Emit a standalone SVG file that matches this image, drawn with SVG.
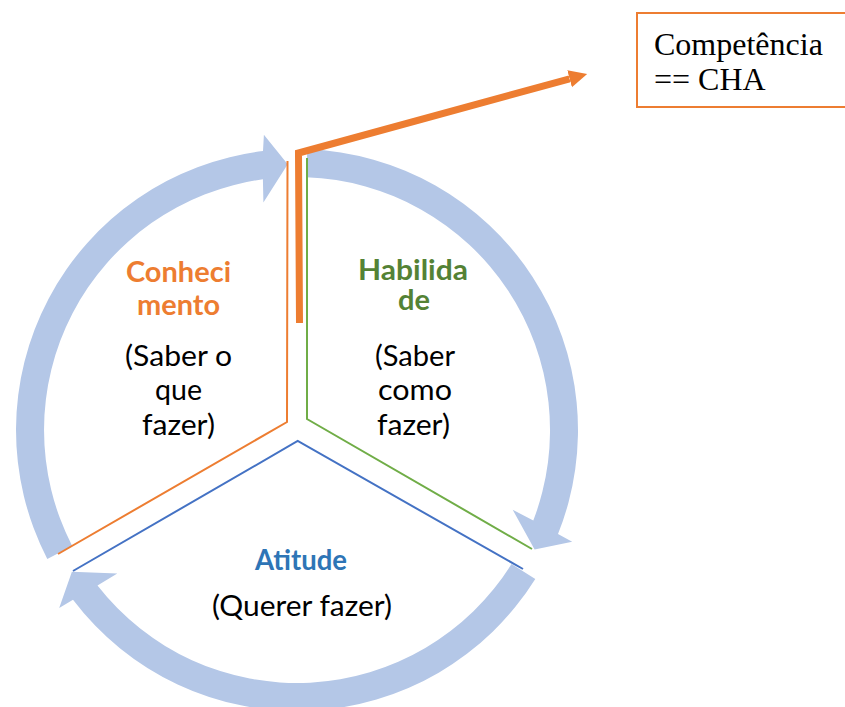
<svg xmlns="http://www.w3.org/2000/svg" width="845" height="707" viewBox="0 0 845 707">
<defs>
<style>
.arc{fill:#B4C7E7;stroke:none}
.thin{fill:none;stroke-width:2;stroke-linejoin:miter}
.lbl{font-family:"Lato","Liberation Sans",Arial,sans-serif;font-size:29px;text-anchor:middle}
.bold{font-weight:bold}
.body{fill:#000000}
.box{font-family:"Liberation Serif","Times New Roman",serif;font-size:32px;fill:#000000}
</style>
<marker id="ah" markerWidth="3" markerHeight="3" refX="0" refY="1.25" orient="auto" markerUnits="strokeWidth">
<path d="M0,0 L2.6,1.25 L0,2.5 Z" fill="#ED7D31"/>
</marker>
</defs>
<rect width="845" height="707" fill="#ffffff"/>
<g id="cycle-arrows">
<path class="arc" d="M 47.3 558.9 A 281 281 0 0 1 263.0 151.1 L 263.9 134.8 L 287.7 164.2 L 263.4 202.5 L 262.9 179.3 A 253 253 0 0 0 72.2 546.0 Z"/>
<path class="arc" d="M 307.3 149.2 A 281 281 0 0 1 558.0 534.1 L 572.2 541.7 L 534.6 549.5 L 512.7 509.8 L 533.3 520.5 A 253 253 0 0 0 306.3 177.2 Z"/>
<path class="arc" d="M 535.3 578.9 A 281 281 0 0 1 73.0 599.7 L 59.2 607.9 L 71.9 571.7 L 117.3 573.5 L 97.5 585.6 A 253 253 0 0 0 511.5 564.1 Z"/>
</g>
<g id="connectors">
<polyline class="thin" stroke="#ED7D31" points="287.5,161 287,422 58,554"/>
<polyline class="thin" stroke="#70AD47" points="307,158 307,419 532,549"/>
<polyline class="thin" stroke="#4472C4" points="73,571 297.7,441 523,569"/>
<polyline fill="none" stroke="#ED7D31" stroke-width="7" stroke-linejoin="miter" points="299.5,323 298.5,153 569.6,78.8" marker-end="url(#ah)"/>
</g>
<g id="conhecimento">
<text class="lbl bold" fill="#ED7D31" x="178.5" y="282" textLength="105" lengthAdjust="spacingAndGlyphs">Conheci</text>
<text class="lbl bold" fill="#ED7D31" x="178.5" y="315" textLength="83" lengthAdjust="spacingAndGlyphs">mento</text>
<text class="lbl body" x="178.5" y="366" textLength="107" lengthAdjust="spacingAndGlyphs">(Saber o</text>
<text class="lbl body" x="178.5" y="400" textLength="47" lengthAdjust="spacingAndGlyphs">que</text>
<text class="lbl body" x="178.5" y="435" textLength="73" lengthAdjust="spacingAndGlyphs">fazer)</text>
</g>
<g id="habilidade">
<text class="lbl bold" fill="#548235" x="413" y="280" textLength="110" lengthAdjust="spacingAndGlyphs">Habilida</text>
<text class="lbl bold" fill="#548235" x="414" y="310" textLength="32" lengthAdjust="spacingAndGlyphs" style="font-size:28px">de</text>
<text class="lbl body" x="415" y="366" textLength="80" lengthAdjust="spacingAndGlyphs">(Saber</text>
<text class="lbl body" x="415" y="400" textLength="74" lengthAdjust="spacingAndGlyphs">como</text>
<text class="lbl body" x="413.5" y="435" textLength="73" lengthAdjust="spacingAndGlyphs">fazer)</text>
</g>
<g id="atitude">
<text class="lbl bold" fill="#2E75B6" x="301" y="570" textLength="92" lengthAdjust="spacingAndGlyphs">Atitude</text>
<text class="lbl body" x="302" y="616" textLength="180" lengthAdjust="spacingAndGlyphs">(Querer fazer)</text>
</g>
<g id="competencia">
<rect x="637" y="13" width="215" height="94" fill="#ffffff" stroke="#ED7D31" stroke-width="2"/>
<text class="box" x="654" y="55">Competência</text>
<text class="box" x="654" y="90">== CHA</text>
</g>
</svg>
